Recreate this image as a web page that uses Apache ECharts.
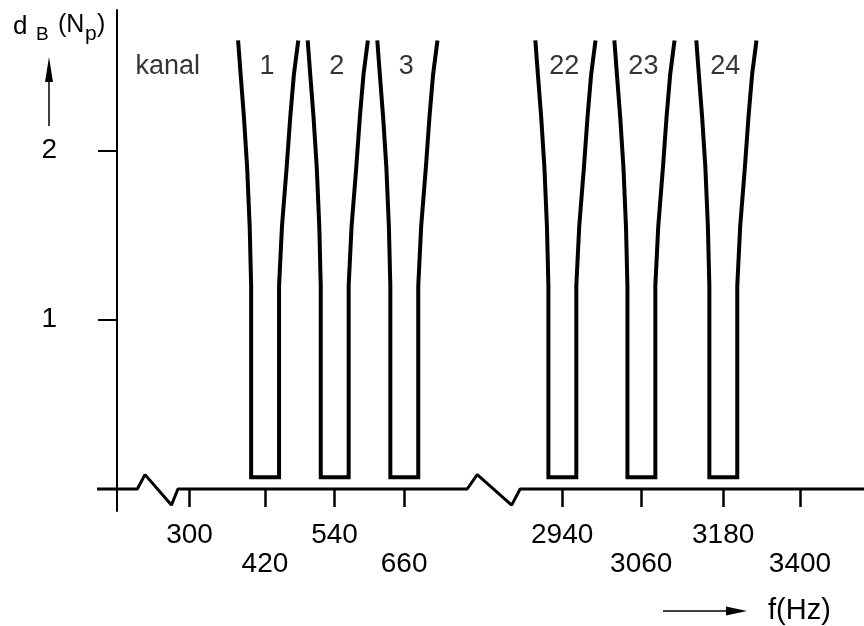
<!DOCTYPE html>
<html><head><meta charset="utf-8">
<script src="https://cdn.jsdelivr.net/npm/echarts@6/dist/echarts.min.js"></script>
<style>html,body{margin:0;padding:0;background:#fff}#c{width:864px;height:626px}</style>
</head><body><div id="c"></div>
<script>
// Schematic (not-to-scale) frequency axis: 1 unit ≈ one 120 Hz channel step as drawn
const tickHz = [300, 420, 540, 660, 2940, 3060, 3180, 3400];
const tickPos = [1.0, 2.04, 3.0, 3.96, 6.14, 7.23, 8.36, 9.42];
const channelNo = [1, 2, 3, 22, 23, 24];
const channelHz = [420, 540, 660, 2940, 3060, 3180];
// attenuation template of one channel filter: d_B (Np) and offsets from channel centre
const wallDb = [0.07, 1.2, 1.55, 1.9, 2.2, 2.45, 2.65];
const leftOff = [-0.19, -0.19, -0.21, -0.245, -0.29, -0.335, -0.37];
const rightOff = [0.195, 0.195, 0.235, 0.30, 0.35, 0.40, 0.46];
const yTicks = [1, 2];
const axisBreaks = [[0.28, 0.84], [4.83, 5.56]];
const breakFrac = [0, 0.19, 0.84, 1];
const breakDb = [0, 0.085, -0.095, 0];

const X_MIN = -0.276, X_MAX = 10.303;
const FONT = 'Liberation Sans';
const chart = echarts.init(document.getElementById('c'));
const series = [];

const axisData = [[X_MIN, 0]];
axisBreaks.forEach(([a, b]) => breakFrac.forEach((f, i) => axisData.push([a + f * (b - a), breakDb[i]])));
axisData.push([X_MAX, 0]);
series.push({type: 'line', data: axisData, showSymbol: false, silent: true, z: 1,
  lineStyle: {color: '#000', width: 3}});

channelHz.forEach((hz, k) => {
  const c = tickPos[tickHz.indexOf(hz)];
  const d = [];
  for (let i = wallDb.length - 1; i >= 0; i--) d.push([c + leftOff[i], wallDb[i]]);
  for (let i = 0; i < wallDb.length; i++) d.push([c + rightOff[i], wallDb[i]]);
  series.push({type: 'line', name: 'kanal ' + channelNo[k], data: d, showSymbol: false, silent: true,
    lineStyle: {color: '#000', width: 4, join: 'miter'}});
});

const labelData = [[0.70, 2.495, 'kanal']].concat(
  channelHz.map((hz, k) => [tickPos[tickHz.indexOf(hz)] + 0.03, 2.495, String(channelNo[k])]));
series.push({type: 'scatter', data: labelData, symbolSize: 1, silent: true,
  itemStyle: {color: 'rgba(0,0,0,0)'},
  label: {show: true, position: 'inside', formatter: p => p.value[2], color: '#000',
    fontFamily: FONT, fontSize: 27}});

const tStyle = (size) => ({fontFamily: FONT, fontSize: size, fontWeight: 'normal', color: '#000'});

chart.setOption({
  backgroundColor: '#fff',
  animation: false,
  grid: {left: 97, right: 0, top: 10, bottom: 115, outerBoundsMode: 'none', containLabel: false},
  title: [
    {text: 'd', left: 13, top: 14, padding: 0, textStyle: tStyle(26)},
    {text: 'B', left: 36, top: 25, padding: 0, textStyle: tStyle(19)},
    {text: '(N', left: 58, top: 13, padding: 0, textStyle: tStyle(25)},
    {text: 'p', left: 85, top: 24, padding: 0, textStyle: tStyle(21)},
    {text: ')', left: 97, top: 13, padding: 0, textStyle: tStyle(25)},
    {text: 'f(Hz)', left: 763, top: 591, textStyle: tStyle(29)}
  ],
  graphic: [
    {type: 'line', shape: {x1: 49, y1: 78, x2: 49, y2: 126}, style: {stroke: '#000', lineWidth: 1.5}},
    {type: 'polygon', shape: {points: [[49, 57], [45, 82], [53, 82]]}, style: {fill: '#000'}},
    {type: 'line', shape: {x1: 663, y1: 611, x2: 728, y2: 611}, style: {stroke: '#000', lineWidth: 1.5}},
    {type: 'polygon', shape: {points: [[747, 611], [726, 606.5], [726, 615.5]]}, style: {fill: '#000'}}
  ],
  xAxis: {type: 'value', min: X_MIN, max: X_MAX, splitLine: {show: false},
    axisLine: {show: false, onZero: true},
    axisTick: {show: true, customValues: tickPos, length: 18, lineStyle: {color: '#000', width: 2.5}},
    axisLabel: {customValues: tickPos, margin: 10, color: '#000', fontFamily: FONT, fontSize: 28, lineHeight: 29,
      formatter: v => {
        const i = tickPos.findIndex(p => Math.abs(p - v) < 1e-6);
        if (i < 0) return '';
        return i % 2 === 0 ? String(tickHz[i]) : '\n' + tickHz[i];
      }}},
  yAxis: {type: 'value', min: -0.13, max: 2.83, splitLine: {show: false},
    axisLine: {show: true, onZero: true, lineStyle: {color: '#000', width: 2}},
    axisTick: {show: true, customValues: yTicks, length: 19, lineStyle: {color: '#000', width: 2}},
    axisLabel: {customValues: yTicks, margin: 40, color: '#000', fontFamily: FONT, fontSize: 28,
      formatter: v => String(v)}},
  series: series
});
</script></body></html>
